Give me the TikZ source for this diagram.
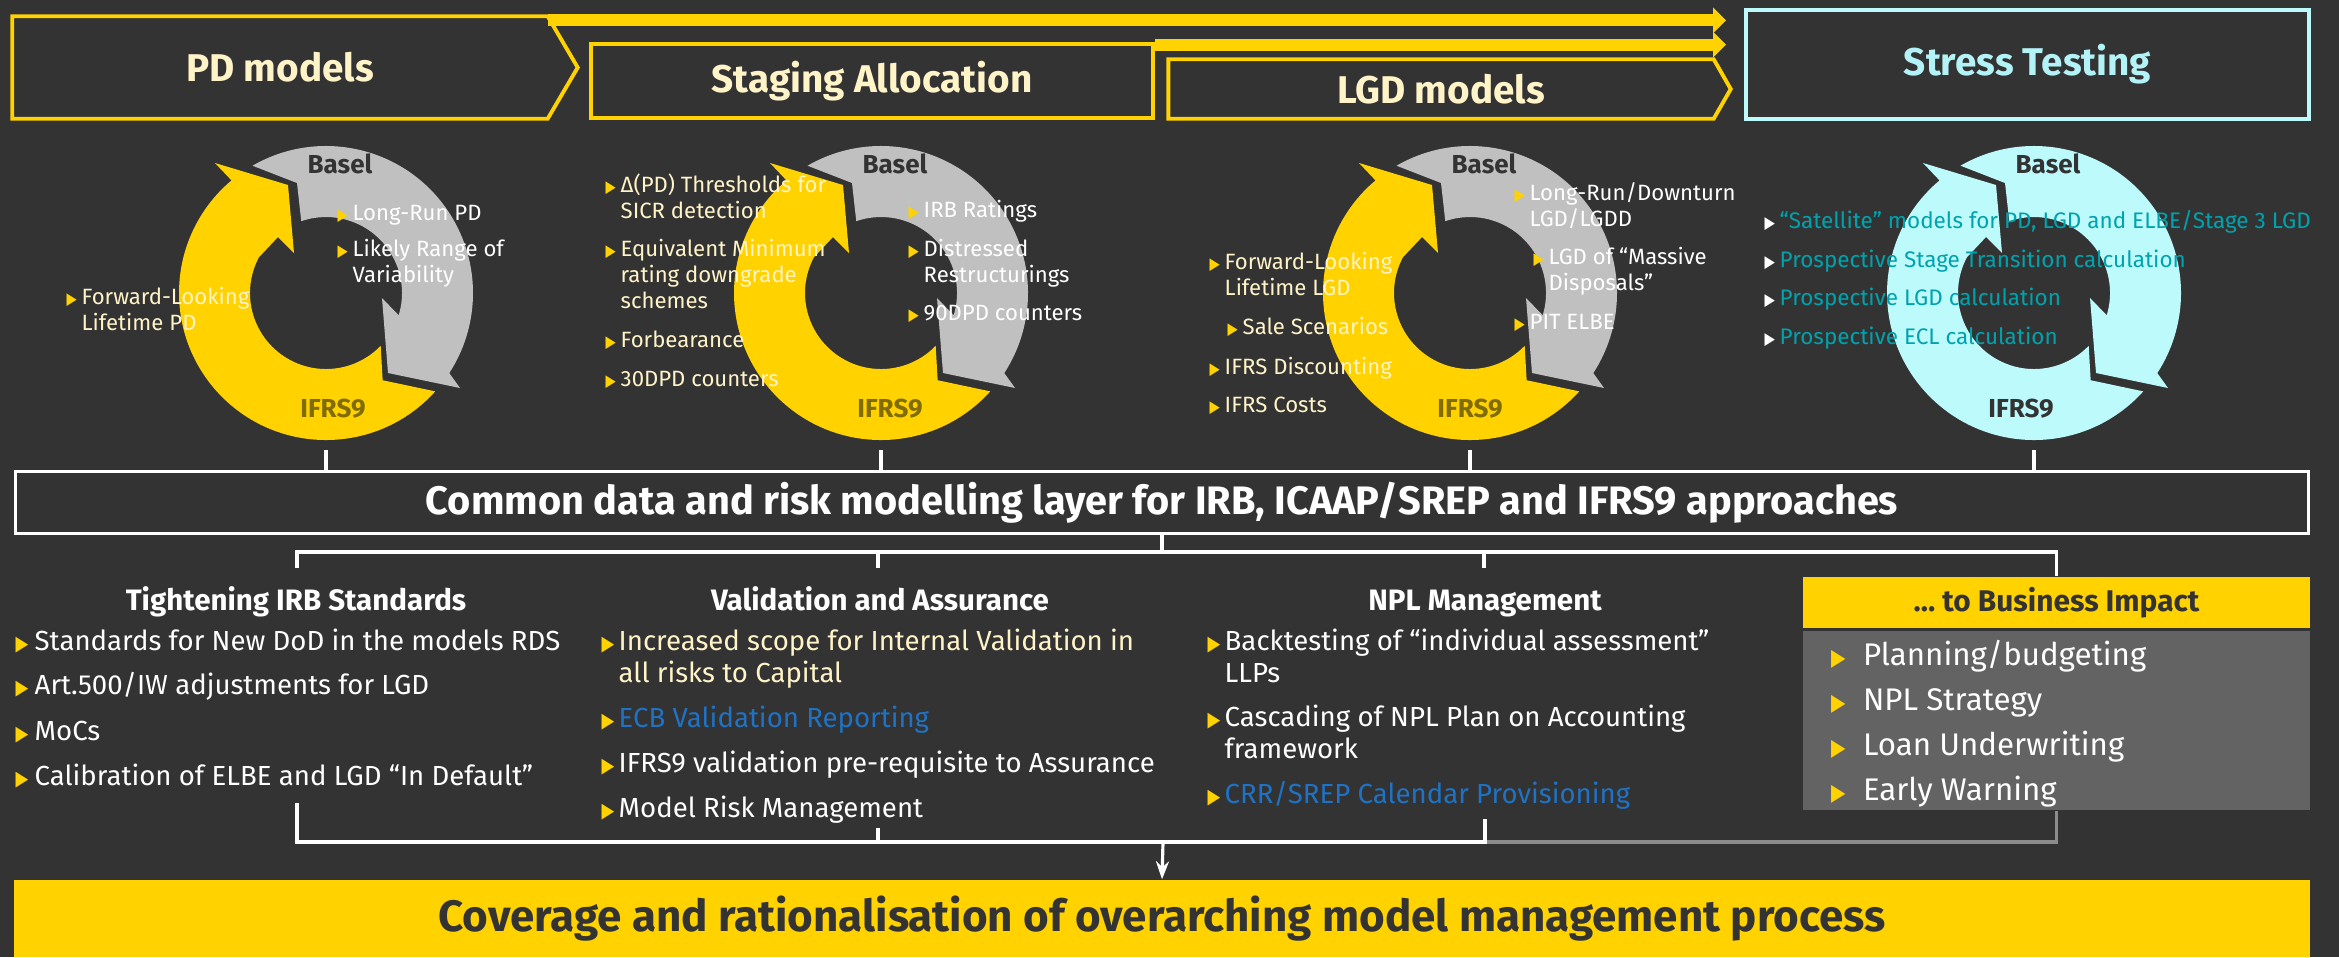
\documentclass[tikz,border=0pt]{standalone}
\usepackage{fontspec}
\setmainfont{Fira Sans}
\newfontfamily\symf{DejaVu Sans}
\usetikzlibrary{calc,positioning,arrows.meta}

\definecolor{bg}{HTML}{333333}
\definecolor{eyyel}{HTML}{FFD200}
\definecolor{cream}{HTML}{FFF3C8}
\definecolor{basgray}{HTML}{C0C0C0}
\definecolor{ifrsdk}{HTML}{806C00}
\definecolor{icecyan}{HTML}{BDFAFC}
\definecolor{sttitle}{HTML}{B3F3F7}
\definecolor{sttext}{HTML}{00A3AD}
\definecolor{linkblue}{HTML}{1F72C4}
\definecolor{bizgray}{HTML}{636363}
\definecolor{wiregray}{HTML}{8C8C8C}

% bullet and hanging indent
\newcommand\blc{eyyel}
\newcommand\bl[1][1.5mm]{\makebox[#1][l]{\textcolor{\blc}{\symf\scalebox{0.6}[0.75]{▶}}}}
\newcommand\hb[1][1.5mm]{\hspace*{#1}}

\begin{document}
\begin{tikzpicture}[
    hdr/.style={font=\bfseries\fontsize{11}{13}\selectfont, text=cream, inner sep=0pt},
    hdrline/.style={draw=eyyel, line width=1.1pt},
    bar/.style={draw=eyyel, line width=0.12cm, -{Triangle[length=1.3mm, width=2.5mm]}},
    ringlbl/.style={font=\bfseries\fontsize{7.4}{8}\selectfont, text=bg, inner sep=0pt, anchor=base},
    cit/.style={font=\fontsize{6.3}{7.3}\selectfont, align=left, anchor=base west, inner sep=0pt},
    stit/.style={cit, font=\fontsize{6.4}{7.3}\selectfont, text=sttext, execute at begin node={\def\blc{white}}},
    lit/.style={font=\fontsize{7.85}{9.1}\selectfont, align=left, anchor=base west, inner sep=0pt, text=white},
    bzit/.style={lit, font=\fontsize{8.9}{10}\selectfont},
    colhd/.style={font=\bfseries\fontsize{8.4}{9}\selectfont, text=white, anchor=base, inner sep=0pt},
    link/.style={draw=white, line width=0.9pt},
    wire/.style={draw=wiregray, line width=0.9pt}
  ]
  \useasboundingbox (0,0) rectangle (23.39,-9.57);
  \fill[bg] (0,0) rectangle (23.39,-9.57);

  % header
  \node[hdr, minimum width=5.34cm, minimum height=1.01cm] (pd) at (2.80,-0.675) {PD models};
  \draw[hdrline] (pd.north west) -- (pd.north east) -- ($(pd.east)+(0.30,0)$)
    -- (pd.south east) -- (pd.south west) -- cycle;
  \node[hdr, draw=eyyel, line width=1.1pt, minimum width=5.62cm, minimum height=0.74cm] (stg) at (8.72,-0.81) {Staging Allocation};
  \node[hdr, minimum width=5.44cm, minimum height=0.58cm] (lgd) at (14.41,-0.89) {LGD models};
  \draw[hdrline] (lgd.north west) -- (lgd.north east) -- ($(lgd.east)+(0.17,0)$)
    -- (lgd.south east) -- (lgd.south west) -- cycle;
  \node[hdr, text=sttitle, draw=icecyan, line width=1.1pt, minimum width=5.63cm, minimum height=1.09cm] (st) at (20.275,-0.645) {Stress Testing};

  \draw[bar] ($(pd.north east)+(0,-0.04)$) -- ($(st.west |- pd.north east)+(-0.18,-0.04)$);
  \draw[bar] ($(stg.north east)+(0,-0.025)$) -- ($(st.west |- stg.north east)+(-0.18,-0.025)$);

  % the four cycles
  \foreach \cx/\ca/\cb/\ct/\ix [count=\i] in {3.26/eyyel/basgray/ifrsdk/0.07, 8.81/eyyel/basgray/ifrsdk/0.09,
      14.70/eyyel/basgray/ifrsdk/0.0, 20.34/icecyan/icecyan/bg/-0.13}{
    \begin{scope}[shift={(\cx,-2.93)}]
      \coordinate (ring\i) at (0,0);
      \coordinate (foot\i) at (0,-1.57);
      \fill[\cb] (120:1.47) arc[start angle=120, end angle=-33, radius=1.47] -- (1.34,-0.95)
        -- (0.62,-0.80) -- (0.56,-0.05) -- (-17:0.76) arc[start angle=-17, end angle=109, radius=0.76]
        -- (-0.29,1.10) -- cycle;
      \fill[\ca] (-42:1.47) arc[start angle=-42, end angle=-230, radius=1.47] -- (-1.11,1.30)
        -- (-0.38,1.08) -- (-0.32,0.40) -- (-0.48,0.56) -- (152:0.76)
        arc[start angle=152, end angle=316, radius=0.76] -- (-57:1.04) -- cycle;
      \node[ringlbl] (basel\i) at (0.14,1.20) {Basel};
      \node[ringlbl, text=\ct] (ifrs\i) at (\ix,-1.24) {IFRS9};
    \end{scope}
  }

  % cycle texts (base = last line)
  \node[cit, text=white] (pdr1) at (3.37,-2.20) {\bl Long-Run PD};
  \node[cit, text=white] (pdr2) at (3.37,-2.82) {\bl Likely Range of\\\hb Variability};
  \node[cit, text=cream] (pdl1) at (0.66,-3.30) {\bl Forward-Looking\\\hb Lifetime PD};

  \node[cit, text=cream] (sal1) at (6.05,-2.18) {\bl Δ(PD) Thresholds for\\\hb SICR detection};
  \node[cit, text=cream] (sal2) at (6.05,-3.08) {\bl Equivalent Minimum\\\hb rating downgrade\\\hb schemes};
  \node[cit, text=cream] (sal3) at (6.05,-3.47) {\bl Forbearance};
  \node[cit, text=cream] (sal4) at (6.05,-3.86) {\bl 30DPD counters};
  \node[cit, text=white] (sar1) at (9.08,-2.17) {\bl IRB Ratings};
  \node[cit, text=white] (sar2) at (9.08,-2.82) {\bl Distressed\\\hb Restructurings};
  \node[cit, text=white] (sar3) at (9.08,-3.20) {\bl 90DPD counters};

  \node[cit, text=cream] (lgl1) at (12.09,-2.95) {\bl Forward-Looking\\\hb Lifetime LGD};
  \node[cit, text=cream] (lgl2) at (12.27,-3.34) {\bl Sale Scenarios};
  \node[cit, text=cream] (lgl3) at (12.09,-3.74) {\bl IFRS Discounting};
  \node[cit, text=cream] (lgl4) at (12.09,-4.12) {\bl IFRS Costs};
  \node[cit, text=white] (lgr1) at (15.14,-2.26) {\bl Long-Run/Downturn\\\hb LGD/LGDD};
  \node[cit, text=white] (lgr2) at (15.33,-2.90) {\bl LGD of “Massive\\\hb Disposals”};
  \node[cit, text=white] (lgr3) at (15.14,-3.29) {\bl PIT ELBE};

  \node[stit] (sti1) at (17.64,-2.28) {\bl “Satellite” models for PD, LGD and ELBE/Stage 3 LGD};
  \node[stit] (sti2) at (17.64,-2.67) {\bl Prospective Stage Transition calculation};
  \node[stit] (sti3) at (17.64,-3.05) {\bl Prospective LGD calculation};
  \node[stit] (sti4) at (17.64,-3.44) {\bl Prospective ECL calculation};

  % common layer
  \node[draw=white, line width=0.9pt, minimum width=22.93cm, minimum height=0.62cm, inner sep=0pt,
    text=white, font=\bfseries\fontsize{11.3}{13}\selectfont] (common) at (11.62,-5.025)
    {Common data and risk modelling layer for IRB, ICAAP/SREP and IFRS9 approaches};
  \foreach \i in {1,...,4}
    \draw[link] (foot\i) -- (foot\i |- common.north);

  % columns
  \node[colhd] (hd1) at (2.96,-6.10) {Tightening IRB Standards};
  \node[colhd] (hd2) at (8.80,-6.10) {Validation and Assurance};
  \node[colhd] (hd3) at (14.85,-6.10) {NPL Management};
  \node[fill=eyyel, minimum width=5.07cm, minimum height=0.51cm, inner sep=0pt, text=bg,
    font=\bfseries\fontsize{8.5}{9}\selectfont] (biz) at (20.565,-6.025) {… to Business Impact};
  \node[fill=bizgray, minimum width=5.07cm, minimum height=1.79cm, inner sep=0pt, below=0.02cm of biz] (bizlist) {};

  \node[lit] (ir1) at (0.15,-6.50) {\bl[1.9mm]Standards for New DoD in the models RDS};
  \node[lit] (ir2) at (0.15,-6.94) {\bl[1.9mm]Art.500/IW adjustments for LGD};
  \node[lit] (ir3) at (0.15,-7.40) {\bl[1.9mm]MoCs};
  \node[lit] (ir4) at (0.15,-7.85) {\bl[1.9mm]Calibration of ELBE and LGD “In Default”};

  \node[lit, text=cream] (va1) at (6.01,-6.82) {\bl[1.7mm]Increased scope for Internal Validation in\\\hb[1.7mm]all risks to Capital};
  \node[lit, text=linkblue] (va2) at (6.01,-7.27) {\bl[1.7mm]ECB Validation Reporting};
  \node[lit] (va3) at (6.01,-7.72) {\bl[1.7mm]IFRS9 validation pre-requisite to Assurance};
  \node[lit] (va4) at (6.01,-8.17) {\bl[1.7mm]Model Risk Management};

  \node[lit] (np1) at (12.07,-6.82) {\bl[1.7mm]Backtesting of “individual assessment”\\\hb[1.7mm]LLPs};
  \node[lit] (np2) at (12.07,-7.58) {\bl[1.7mm]Cascading of NPL Plan on Accounting\\\hb[1.7mm]framework};
  \node[lit, text=linkblue] (np3) at (12.07,-8.03) {\bl[1.7mm]CRR/SREP Calendar Provisioning};

  \node[bzit] (bz1) at ($(bizlist.north west)+(0.28,-0.35)$) {\bl[3.2mm]Planning/budgeting};
  \node[bzit] (bz2) at ($(bz1.base west)+(0,-0.45)$) {\bl[3.2mm]NPL Strategy};
  \node[bzit] (bz3) at ($(bz2.base west)+(0,-0.45)$) {\bl[3.2mm]Loan Underwriting};
  \node[bzit] (bz4) at ($(bz3.base west)+(0,-0.45)$) {\bl[3.2mm]Early Warning};

  % branching wires
  \coordinate (hub) at (11.62,-5.52);
  \coordinate (t1) at (2.97,-5.68);
  \coordinate (t2) at (8.78,-5.68);
  \coordinate (t3) at (14.84,-5.68);
  \draw[link] (common.south -| hub) -- (hub);
  \draw[link] (t1) |- (biz.north |- hub) -- (biz.north);
  \draw[link] (t2) -- (t2 |- hub);
  \draw[link] (t3) -- (t3 |- hub);

  % bottom box and merging wires
  \node[fill=eyyel, minimum width=22.96cm, minimum height=0.77cm, inner sep=0pt, text=bg,
    font=\bfseries\fontsize{12.5}{14}\selectfont] (cov) at (11.62,-9.185)
    {Coverage and rationalisation of overarching model management process};
  \coordinate (merge) at (11.63,-8.42);
  \coordinate (b1) at (2.97,-8.03);
  \coordinate (b2) at (8.78,-8.28);
  \coordinate (b3) at (14.85,-8.19);
  \draw[wire] (b3 |- merge) -| (bizlist.south);
  \draw[link] (b1) |- (b3 |- merge) -- (b3);
  \draw[link] (b2) -- (b2 |- merge);
  \draw[link, -{Stealth[length=1.8mm, width=1.3mm]}] (merge) -- (cov.north);
\end{tikzpicture}
\end{document}
